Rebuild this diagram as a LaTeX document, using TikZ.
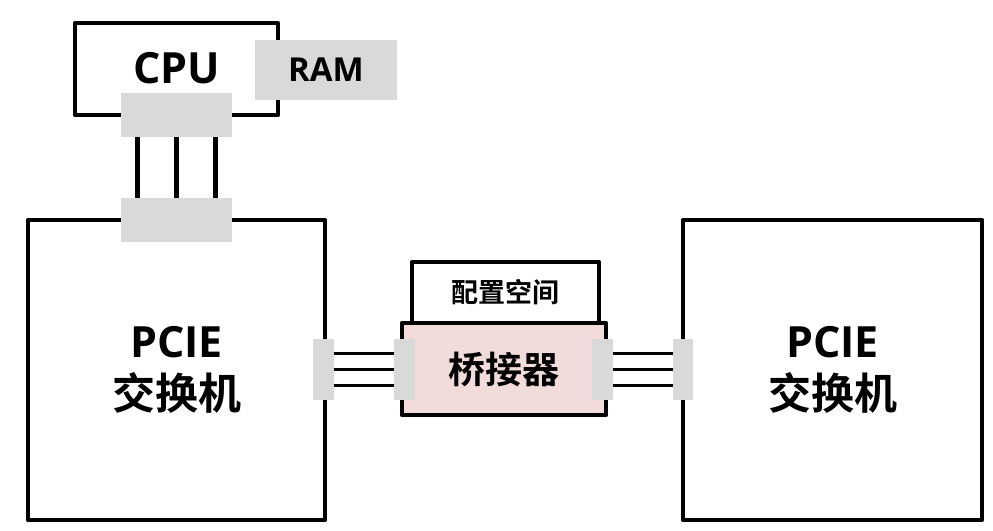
\documentclass[tikz,border=0pt]{standalone}
\usepackage{fontspec}
\setmainfont{Open Sans}[BoldFont=* Bold]
\newfontfamily\cjk{Noto Sans CJK SC}[BoldFont=* Bold]
\definecolor{portgray}{HTML}{D9D9D9}
\definecolor{bridgepink}{HTML}{F2DCDB}

\begin{document}
\begin{tikzpicture}[
  x=1pt,
  y=-1pt,
  every node/.style={inner sep=0pt, outer sep=0pt, align=center},
  unit/.style={draw=black, line width=4.6pt, line join=round, fill=white},
  port/.style={fill=portgray},
  wire/.style={black, line width=4.4pt},
  lane/.style={black, line width=3.4pt},
  bigtext/.style={font=\bfseries\fontsize{43}{52}\selectfont},
  midtext/.style={font=\cjk\bfseries\fontsize{37}{44}\selectfont},
  smalltext/.style={font=\bfseries\fontsize{33}{38}\selectfont},
  tinytext/.style={font=\cjk\bfseries\fontsize{27}{32}\selectfont}
]
  \useasboundingbox (0,0) rectangle (993,530);

  %% ---- CPU 與 RAM --------------------------------------------------------
  \node[unit, minimum width=203, minimum height=92, bigtext] (cpu)
    at (176.5,69) {\raisebox{2pt}{CPU}};
  \node[port, minimum width=142, minimum height=60, smalltext] (ram)
    at (326,70) {RAM};

  %% ---- 兩台交換機 --------------------------------------------------------
  \node[unit, minimum width=297, minimum height=300, bigtext] (lsw)
    at (176.5,370) {PCIE\\{\cjk 交换机}};
  \node[unit, minimum width=299, minimum height=300, bigtext] (rsw)
    at (832.5,370) {PCIE\\{\cjk 交换机}};

  %% ---- 橋接器與配置空間 --------------------------------------------------
  \node[unit, minimum width=187, minimum height=61, tinytext] (cfg)
    at (505.5,292.5) {\raisebox{-4pt}{配置空间}};
  \node[unit, fill=bridgepink, minimum width=204, minimum height=92,
        midtext] (bridge) at (504,369) {\raisebox{-3pt}{桥接器}};

  %% ---- 介面 (灰色方塊) ---------------------------------------------------
  \node[port, minimum width=111, minimum height=44] (cpuport) at (176.5,115) {};
  \node[port, minimum width=111, minimum height=44] (swport) at (176.5,220) {};
  \node[port, minimum width=21, minimum height=61] (lswport) at (323.5,369.5) {};
  \node[port, minimum width=21, minimum height=61] (brlport) at (404.5,369.5) {};
  \node[port, minimum width=21, minimum height=61] (brrport) at (602.5,369.5) {};
  \node[port, minimum width=20, minimum height=61] (rswport) at (683,369.5) {};

  %% ---- 連線 --------------------------------------------------------------
  \foreach \dx in {-39,0,39}
    \draw[wire] ([xshift=\dx]cpuport.south) -- ([xshift=\dx]swport.north);
  \foreach \dy in {-16,0,16}
    \draw[lane] ([yshift=\dy]lswport.east) -- ([yshift=\dy]brlport.west);
  \foreach \dy in {-16,0,16}
    \draw[lane] ([yshift=\dy]brrport.east) -- ([yshift=\dy]rswport.west);
\end{tikzpicture}
\end{document}
